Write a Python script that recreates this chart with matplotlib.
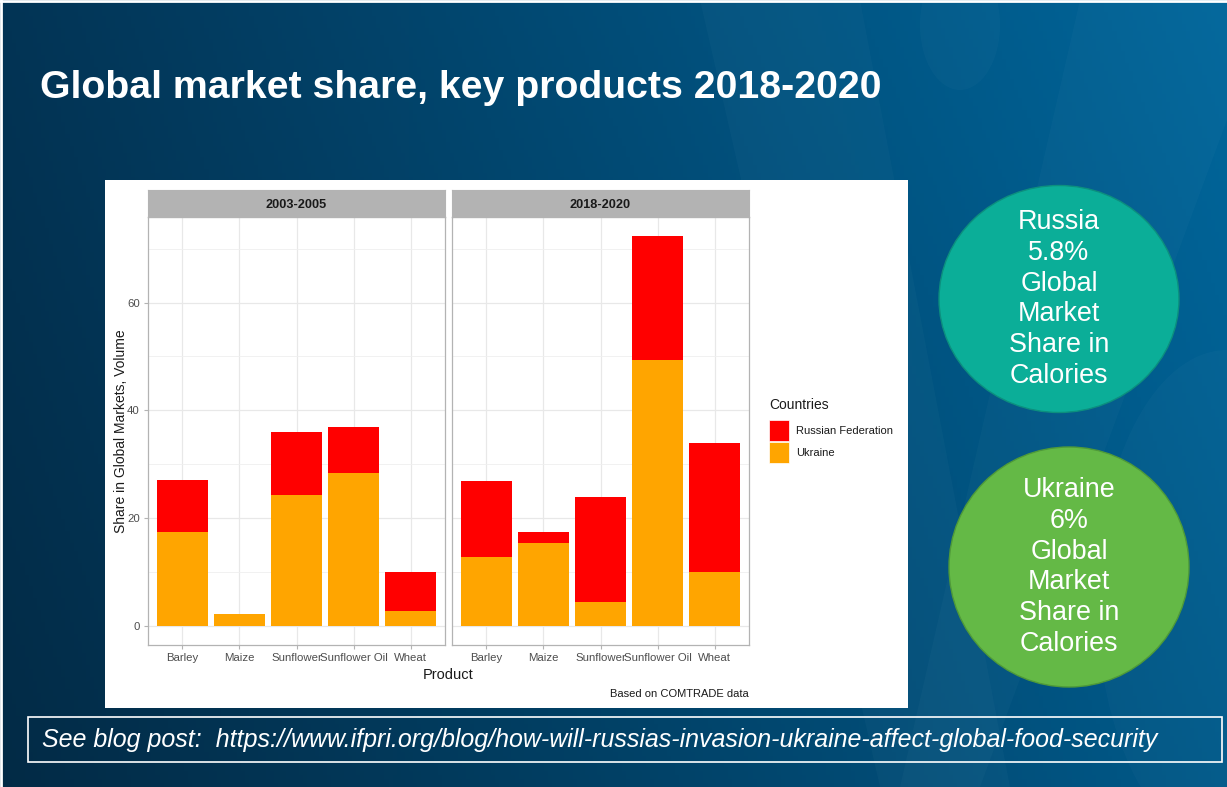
import numpy as np
import matplotlib.pyplot as plt
from matplotlib.patches import Rectangle, Ellipse, Polygon

plt.rcParams['font.family'] = ['Liberation Sans', 'DejaVu Sans']

# Datos: participación en mercados globales (volumen, %)
productos = ['Barley', 'Maize', 'Sunflower', 'Sunflower Oil', 'Wheat']
periodos = ['2003-2005', '2018-2020']
ucrania = {'2003-2005': [17.4, 2.1, 24.2, 28.4, 2.7],
           '2018-2020': [12.7, 15.3, 4.4, 49.4, 10.0]}
rusia = {'2003-2005': [9.7, 0.0, 11.7, 8.5, 7.2],
         '2018-2020': [14.2, 2.1, 19.5, 22.9, 24.0]}
paises = ['Russian Federation', 'Ukraine']
colores = {'Russian Federation': '#FF0000', 'Ukraine': '#FFA500'}

titulo = 'Global market share, key products 2018-2020'
enlace = 'See blog post:  https://www.ifpri.org/blog/how-will-russias-invasion-ukraine-affect-global-food-security'
burbujas = [('Russia\n5.8%\nGlobal\nMarket\nShare in\nCalories', '#0BAE98', '#0C8F7E', 1059, 299, 240, 227),
            ('Ukraine\n6%\nGlobal\nMarket\nShare in\nCalories', '#64B946', '#4F9A38', 1069, 567, 240, 240)]

W, H = 1227, 787
fig = plt.figure(figsize=(W / 100, H / 100), dpi=100)

def caja(x0, y0, x1, y1):
    # pixeles -> coordenadas de figura
    return [x0 / W, 1 - y1 / H, (x1 - x0) / W, (y1 - y0) / H]

# Fondo azul degradado
fondo = fig.add_axes([0, 0, 1, 1])
fondo.set_xlim(0, W)
fondo.set_ylim(H, 0)
fondo.axis('off')
xx, yy = np.meshgrid(np.linspace(0, 1, 300), np.linspace(0, 1, 200))
t = np.clip(0.75 * xx + 0.25 * (1 - yy) * xx, 0, 1)
izq = np.array([3, 52, 85]) / 255
der = np.array([0, 102, 155]) / 255
img = izq[None, None, :] * (1 - t[..., None]) + der[None, None, :] * t[..., None]
img *= (1 - 0.18 * yy[..., None] * (1 - xx[..., None]))
fondo.imshow(img, extent=[0, W, H, 0], aspect='auto', zorder=0)
fondo.add_patch(Polygon([[700, 0], [860, 0], [1010, 787], [880, 787]], color='white', alpha=0.025, lw=0))
fondo.add_patch(Polygon([[1080, 0], [1227, 0], [1227, 120], [980, 787], [900, 787]], color='white', alpha=0.025, lw=0))
fondo.add_patch(Ellipse((960, 25), 80, 130, color='white', alpha=0.025, lw=0))
fondo.add_patch(Ellipse((1227, 600), 260, 500, color='white', alpha=0.025, lw=0))
fondo.plot([1, 1], [0, H], color='white', lw=2)
fondo.plot([0, W], [1, 1], color='white', lw=2)

fondo.text(40, 88, titulo, color='white', fontsize=28.3, fontweight='bold', va='center', ha='left')

# Recuadro del enlace
fondo.add_patch(Rectangle((28, 717), 1194, 45, fill=False, ec='white', lw=1.2))
fondo.text(42, 740, enlace, color='white', fontsize=18, style='italic', va='center', ha='left')

# Burbujas
for texto, color, borde, cx, cy, ancho, alto in burbujas:
    fondo.add_patch(Ellipse((cx, cy), ancho, alto, fc=color, ec=borde, lw=1))
    fondo.text(cx, cy, texto, color='white', fontsize=19.4, ha='center', va='center', linespacing=1.24)

# Panel blanco del gráfico
fondo.add_patch(Rectangle((105, 180), 803, 528, fc='white', ec='none'))

x = np.arange(len(productos))
paneles = [(148, 445), (452, 749)]
ejes = []
for i, (periodo, (x0, x1)) in enumerate(zip(periodos, paneles)):
    ax = fig.add_axes(caja(x0, 217, x1, 645))
    ax.set_facecolor('white')
    ax.set_xlim(-0.6, 4.6)
    ax.set_ylim(-3.6, 75.9)
    ax.set_yticks([0, 20, 40, 60])
    ax.set_yticks([10, 30, 50, 70], minor=True)
    ax.set_xticks(x)
    ax.set_xticklabels(productos)
    ax.grid(which='major', color='#E8E8E8', lw=0.9)
    ax.grid(which='minor', axis='y', color='#EFEFEF', lw=0.6)
    ax.set_axisbelow(True)
    for s in ax.spines.values():
        s.set_color('#B3B3B3')
        s.set_linewidth(0.9)
    ax.tick_params(axis='both', which='major', length=3, color='#B3B3B3',
                   labelcolor='#4D4D4D', labelsize=8.2, pad=3)
    ax.tick_params(axis='y', which='minor', length=0)
    ax.bar(x, ucrania[periodo], width=0.9, color=colores['Ukraine'], zorder=2)
    ax.bar(x, rusia[periodo], width=0.9, bottom=ucrania[periodo],
           color=colores['Russian Federation'], zorder=2)
    if i > 0:
        ax.tick_params(axis='y', left=False, labelleft=False)
    # Franja del título de faceta
    tira = fig.add_axes(caja(x0, 190, x1, 217))
    tira.set_xticks([])
    tira.set_yticks([])
    tira.set_facecolor('#B3B3B3')
    for s in tira.spines.values():
        s.set_color('#B3B3B3')
    tira.text(0.5, 0.45, periodo, ha='center', va='center', fontsize=9.2,
              fontweight='bold', color='#1A1A1A', transform=tira.transAxes)
    ejes.append(ax)

fondo.text(121, 431, 'Share in Global Markets, Volume', rotation=90, fontsize=10,
           ha='center', va='center', color='#1A1A1A')
fondo.text(448, 675, 'Product', fontsize=10.5, ha='center', va='center', color='#1A1A1A')
fondo.text(749, 694, 'Based on COMTRADE data', fontsize=8, ha='right', va='center', color='#1A1A1A')

# Leyenda
fondo.text(769, 405, 'Countries', fontsize=10, ha='left', va='center', color='#1A1A1A')
for j, pais in enumerate(paises):
    y0 = 420 + 22 * j
    fondo.add_patch(Rectangle((769, y0), 20, 21, fc=colores[pais], ec='white', lw=0.5))
    fondo.text(796, y0 + 11, pais, fontsize=8, ha='left', va='center', color='#1A1A1A')

plt.savefig('out.png', dpi=100)
